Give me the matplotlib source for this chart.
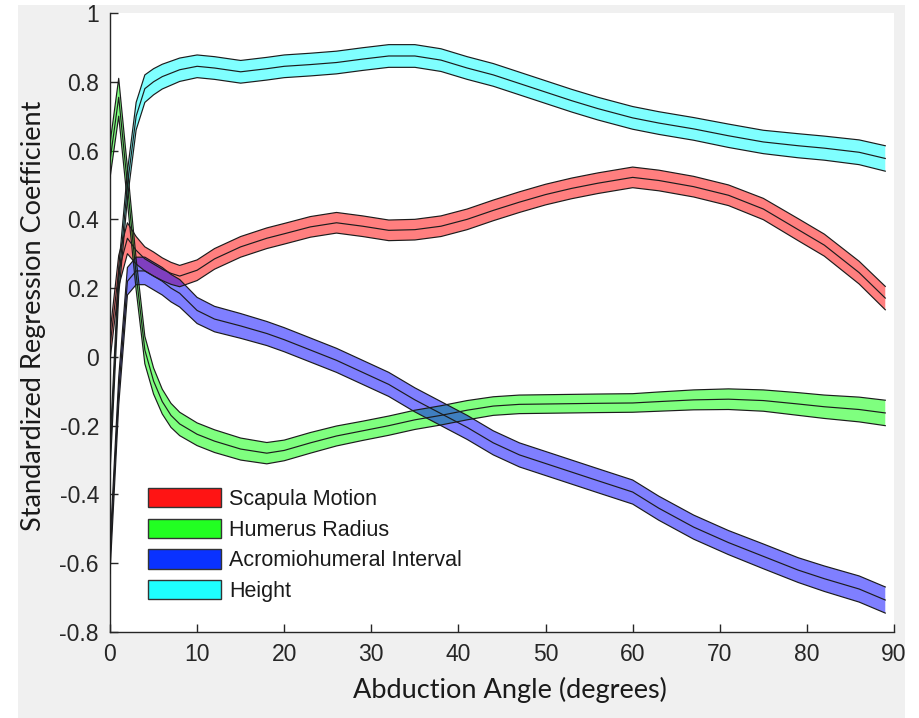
import matplotlib
matplotlib.use("Agg")
import matplotlib.pyplot as plt
from matplotlib.patches import Patch, Rectangle
import numpy as np

# ---- data ----
angle = [0, 1, 2, 3, 4, 5, 6, 7, 8, 10, 12, 15, 18, 20, 23, 26, 29, 32, 35, 38,
         41, 44, 47, 50, 53, 56, 60, 63, 67, 71, 75, 79, 82, 86, 89]

scapula = [0.03, 0.25, 0.345, 0.31, 0.285, 0.27, 0.255, 0.243, 0.235, 0.252, 0.285,
           0.32, 0.345, 0.358, 0.378, 0.39, 0.38, 0.368, 0.37, 0.38, 0.4, 0.426,
           0.45, 0.472, 0.49, 0.505, 0.522, 0.513, 0.495, 0.47, 0.43, 0.37, 0.325,
           0.245, 0.171]
scapula_hw = [0.04, 0.045, 0.045, 0.04, 0.035, 0.035, 0.033, 0.032, 0.031, 0.03, 0.03,
              0.03, 0.03, 0.03, 0.03, 0.03, 0.03, 0.03, 0.03, 0.03, 0.03, 0.03,
              0.03, 0.03, 0.03, 0.03, 0.03, 0.03, 0.03, 0.03, 0.031, 0.032, 0.032,
              0.033, 0.034]

humerus = [0.57, 0.755, 0.5, 0.24, 0.02, -0.07, -0.13, -0.17, -0.195, -0.225, -0.245,
           -0.268, -0.28, -0.272, -0.25, -0.23, -0.215, -0.2, -0.183, -0.17, -0.155,
           -0.143, -0.138, -0.137, -0.136, -0.135, -0.134, -0.13, -0.125, -0.123,
           -0.127, -0.137, -0.145, -0.153, -0.163]
humerus_hw = [0.05, 0.055, 0.05, 0.045, 0.04, 0.038, 0.036, 0.035, 0.034, 0.033, 0.033,
              0.032, 0.031, 0.03, 0.03, 0.029, 0.028, 0.028, 0.028, 0.028, 0.028,
              0.027, 0.027, 0.027, 0.027, 0.027, 0.027, 0.028, 0.029, 0.03,
              0.031, 0.033, 0.034, 0.036, 0.037]

acromio = [-0.59, -0.1, 0.22, 0.25, 0.25, 0.235, 0.22, 0.2, 0.185, 0.135, 0.11,
           0.09, 0.068, 0.05, 0.02, -0.01, -0.045, -0.08, -0.125, -0.165, -0.205,
           -0.25, -0.285, -0.31, -0.335, -0.36, -0.393, -0.44, -0.495, -0.54,
           -0.58, -0.62, -0.645, -0.675, -0.707]
acromio_hw = [0.04, 0.04, 0.04, 0.04, 0.04, 0.04, 0.04, 0.04, 0.04, 0.038, 0.037,
              0.036, 0.035, 0.035, 0.035, 0.035, 0.035, 0.035, 0.035, 0.035, 0.035,
              0.035, 0.035, 0.035, 0.035, 0.035, 0.035, 0.035, 0.035, 0.035,
              0.036, 0.036, 0.037, 0.038, 0.038]

height = [-0.3, 0.22, 0.5, 0.7, 0.78, 0.8, 0.815, 0.825, 0.835, 0.845, 0.84,
          0.829, 0.838, 0.845, 0.85, 0.856, 0.866, 0.875, 0.875, 0.863, 0.84,
          0.82, 0.795, 0.77, 0.745, 0.722, 0.695, 0.68, 0.663, 0.643, 0.625, 0.614,
          0.607, 0.595, 0.577]
height_hw = [0.04, 0.04, 0.04, 0.04, 0.04, 0.038, 0.036, 0.035, 0.034, 0.033, 0.033,
             0.033, 0.033, 0.033, 0.033, 0.033, 0.033, 0.033, 0.033, 0.033, 0.033,
             0.033, 0.033, 0.033, 0.033, 0.033, 0.033, 0.033, 0.033, 0.034, 0.034,
             0.035, 0.035, 0.036, 0.037]

labels = ["Scapula Motion", "Humerus Radius", "Acromiohumeral Interval", "Height"]
colors = ["#ff0000", "#00ff00", "#0000ff", "#00ffff"]
legend_colors = ["#ff1414", "#22ff22", "#0a32ff", "#1effff"]

yticks = [-0.8, -0.6, -0.4, -0.2, 0, 0.2, 0.4, 0.6, 0.8, 1]
ytick_labels = ["-0.8", "-0.6", "-0.4", "-0.2", "0", "0.2", "0.4", "0.6", "0.8", "1"]
xticks = [0, 10, 20, 30, 40, 50, 60, 70, 80, 90]
xtick_labels = ["0", "10", "20", "30", "40", "50", "60", "70", "80", "90"]

# ---- figure ----
W, H = 919, 718
fig = plt.figure(figsize=(W / 100, H / 100), dpi=100, facecolor="white")
fig.patches.append(Rectangle((18 / W, 0), (905 - 18) / W, 1 - 5 / H,
                             transform=fig.transFigure, facecolor="#f0f0f0",
                             edgecolor="none", zorder=-10))

ax = fig.add_axes([110 / W, 1 - 632 / H, (894 - 110) / W, (632 - 13) / H])
ax.set_facecolor("white")

x = np.array(angle, dtype=float)
series = [(scapula, scapula_hw), (humerus, humerus_hw),
          (acromio, acromio_hw), (height, height_hw)]
line_c = "#1c1c1c"
for (m, hw), c in zip(series, colors):
    m = np.array(m)
    hw = np.array(hw)
    lo, hi = m - hw, m + hw
    ax.fill_between(x, lo, hi, facecolor=c, alpha=0.5, edgecolor="none", zorder=2)
    ax.plot(x, hi, color=line_c, lw=0.85, zorder=3)
    ax.plot(x, lo, color=line_c, lw=0.85, zorder=3)
    ax.plot(x, m, color=line_c, lw=0.85, zorder=3)

ax.set_xlim(0, 90)
ax.set_ylim(-0.8, 1)
ax.set_xticks(xticks)
ax.set_xticklabels(xtick_labels)
ax.set_yticks(yticks)
ax.set_yticklabels(ytick_labels)

for s in ["top", "right"]:
    ax.spines[s].set_visible(False)
for s in ["left", "bottom"]:
    ax.spines[s].set_color("#262626")
    ax.spines[s].set_linewidth(1.0)

ax.tick_params(direction="in", length=6, width=1.0, color="#262626",
               labelcolor="#262626", labelsize=16.5, pad=8)
for lab in ax.get_xticklabels() + ax.get_yticklabels():
    lab.set_fontfamily(["Liberation Sans", "DejaVu Sans"])

ax.set_xlabel("Abduction Angle (degrees)", fontsize=19.5, family=["Lato", "DejaVu Sans"],
              color="#1a1a1a", va="center")
ax.xaxis.set_label_coords(0.51, -0.0937)
ax.set_ylabel("Standardized Regression Coefficient", fontsize=19.5,
              family=["Lato", "DejaVu Sans"], color="#1a1a1a", va="center")
ax.yaxis.set_label_coords(-0.098, 0.51)

handles = [Patch(facecolor=c, edgecolor="#333333", linewidth=1.0) for c in legend_colors]
leg = ax.legend(handles, labels, loc="upper left", bbox_to_anchor=(0.0485, 0.2326),
                frameon=False, borderpad=0, borderaxespad=0, handlelength=3.4,
                handleheight=1.0, handletextpad=0.37, labelspacing=0.4,
                prop={"family": ["Liberation Sans", "DejaVu Sans"], "size": 15.5})
for t in leg.get_texts():
    t.set_color("#1a1a1a")

fig.savefig("out.png", dpi=100, facecolor=fig.get_facecolor())
